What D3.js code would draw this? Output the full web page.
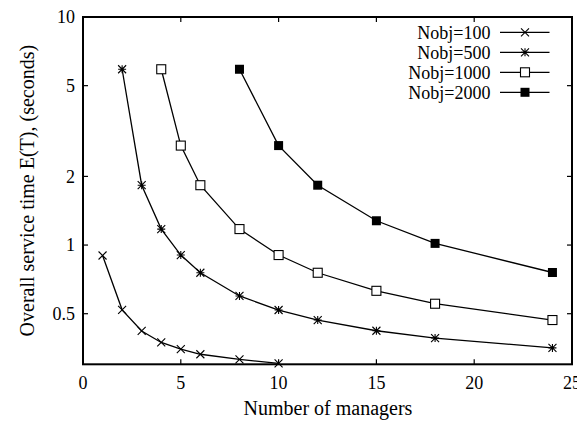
<!DOCTYPE html>
<html><head><meta charset="utf-8">
<script src="https://cdn.jsdelivr.net/npm/d3@7"></script>
<style>body{margin:0;background:#fff}svg{display:block}text{font-family:"Liberation Serif","Times New Roman",serif;fill:#000}</style>
</head><body><svg id="c" width="577" height="421"></svg>
<script>
const seriesNames = ["Nobj=100","Nobj=500","Nobj=1000","Nobj=2000"];
const x100 = [1,2,3,4,5,6,8,10];
const y100 = [0.90,0.52,0.42,0.374,0.35,0.332,0.315,0.303];
const x500 = [2,3,4,5,6,8,10,12,15,18,24];
const y500 = [5.9,1.83,1.175,0.904,0.756,0.598,0.519,0.469,0.421,0.391,0.354];
const x1000 = [4,5,6,8,10,12,15,18,24];
const y1000 = [5.9,2.73,1.83,1.175,0.904,0.756,0.63,0.553,0.469];
const x2000 = [8,10,12,15,18,24];
const y2000 = [5.9,2.73,1.83,1.278,1.017,0.758];
const xTicks = [0,5,10,15,20,25];
const yTicks = [0.5,1,2,5,10];
const markers = ["cross","star","square","filled"];

const svg = d3.select("#c");
const L=83,R=572,T=17,B=364.3;
const x = d3.scaleLinear().domain([0,25]).range([L,R]);
const y = d3.scaleLog().domain([0.3,10]).range([B,T]);
const fs = 18, fsT = 20;

const g = svg.append("g");
const tl = 5;
xTicks.forEach(t=>{
  if(t>0 && t<25){
    g.append("line").attr("x1",x(t)).attr("x2",x(t)).attr("y1",B).attr("y2",B-tl).attr("stroke","#000").attr("stroke-width",1.2);
    g.append("line").attr("x1",x(t)).attr("x2",x(t)).attr("y1",T).attr("y2",T+tl).attr("stroke","#000").attr("stroke-width",1.2);
  }
  g.append("text").attr("x",x(t)).attr("y",B+25).attr("text-anchor","middle").attr("font-size",fs).text(t);
});
yTicks.forEach(t=>{
  if(t<10){
    g.append("line").attr("x1",L).attr("x2",L+tl).attr("y1",y(t)).attr("y2",y(t)).attr("stroke","#000").attr("stroke-width",1.2);
    g.append("line").attr("x1",R).attr("x2",R-tl).attr("y1",y(t)).attr("y2",y(t)).attr("stroke","#000").attr("stroke-width",1.2);
  }
  g.append("text").attr("x",L-8).attr("y",y(t)).attr("dy","0.35em").attr("text-anchor","end").attr("font-size",fs).text(t);
});

const data = [[x100,y100],[x500,y500],[x1000,y1000],[x2000,y2000]];
const line = d3.line().x(d=>x(d[0])).y(d=>y(d[1]));

function drawMarker(sel, type, cx, cy){
  const s=4;
  if(type==="cross"){
    sel.append("path").attr("d",`M${cx-s},${cy-s}L${cx+s},${cy+s}M${cx-s},${cy+s}L${cx+s},${cy-s}`).attr("stroke","#000").attr("stroke-width",1.1).attr("fill","none");
  } else if(type==="star"){
    sel.append("path").attr("d",`M${cx-s},${cy-s}L${cx+s},${cy+s}M${cx-s},${cy+s}L${cx+s},${cy-s}M${cx-s},${cy}L${cx+s},${cy}M${cx},${cy-s}L${cx},${cy+s}`).attr("stroke","#000").attr("stroke-width",1.1).attr("fill","none");
  } else if(type==="square"){
    sel.append("rect").attr("x",cx-4.5).attr("y",cy-4.5).attr("width",9).attr("height",9).attr("fill","#fff").attr("stroke","#000").attr("stroke-width",1.1);
  } else {
    sel.append("rect").attr("x",cx-4.5).attr("y",cy-4.5).attr("width",9).attr("height",9).attr("fill","#000");
  }
}

const plot = svg.append("g");
data.forEach((d,i)=>{
  const pts = d[0].map((xv,j)=>[xv,d[1][j]]);
  plot.append("path").datum(pts).attr("d",line).attr("fill","none").attr("stroke","#000").attr("stroke-width",1.3);
  pts.forEach(p=>drawMarker(plot,markers[i],x(p[0]),y(p[1])));
});

svg.append("rect").attr("x",L).attr("y",T).attr("width",R-L).attr("height",B-T).attr("fill","none").attr("stroke","#000").attr("stroke-width",2);

const lg = svg.append("g");
seriesNames.forEach((n,i)=>{
  const ly = 32.3 + i*20;
  lg.append("text").attr("x",490.5).attr("y",ly).attr("dy","0.35em").attr("text-anchor","end").attr("font-size",fs).text(n);
  lg.append("line").attr("x1",500).attr("x2",549.5).attr("y1",ly).attr("y2",ly).attr("stroke","#000").attr("stroke-width",1.3);
  drawMarker(lg,markers[i],525,ly);
});

svg.append("text").attr("x",(L+R)/2 + 0.5).attr("y",415).attr("text-anchor","middle").attr("font-size",fsT).text("Number of managers");
svg.append("text").attr("transform",`translate(27,${(T+B)/2}) rotate(-90)`).attr("dy","0.35em").attr("text-anchor","middle").attr("font-size",fsT).text("Overall service time E(T), (seconds)");
</script></body></html>
